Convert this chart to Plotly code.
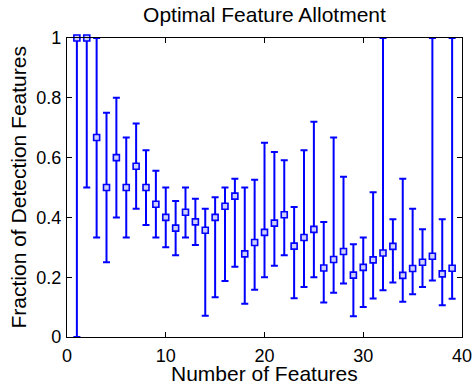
import plotly.graph_objects as go

x_features = list(range(1, 40))
frac_mean = [1.0, 1.0, 0.667, 0.5, 0.6, 0.5, 0.571, 0.5, 0.444, 0.4,
             0.364, 0.417, 0.385, 0.357, 0.4, 0.4375, 0.471, 0.278, 0.316, 0.35,
             0.381, 0.409, 0.304, 0.333, 0.36, 0.231, 0.259, 0.286, 0.207, 0.233,
             0.258, 0.281, 0.303, 0.206, 0.229, 0.25, 0.27, 0.211, 0.23]
frac_upper = [1.0, 1.0, 1.0, 0.75, 0.8, 0.667, 0.714, 0.625, 0.556, 0.5,
              0.455, 0.5, 0.462, 0.429, 0.467, 0.5, 0.529, 0.5, 0.526, 0.65,
              0.619, 0.591, 0.435, 0.625, 0.72, 0.385, 0.667, 0.536, 0.31, 0.333,
              0.484, 1.0, 0.394, 0.529, 0.429, 0.36, 1.0, 0.394, 1.0]
frac_lower = [0.0, 0.5, 0.333, 0.25, 0.4, 0.333, 0.429, 0.375, 0.333, 0.3,
              0.273, 0.333, 0.308, 0.071, 0.133, 0.1875, 0.235, 0.111, 0.158, 0.2,
              0.238, 0.273, 0.13, 0.167, 0.2, 0.115, 0.148, 0.179, 0.069, 0.1,
              0.129, 0.156, 0.182, 0.118, 0.143, 0.167, 0.189, 0.106, 0.128]

x_ticks = [0, 10, 20, 30, 40]
y_ticks = [0, 0.2, 0.4, 0.6, 0.8, 1]
y_ticktext = ["0", "0.2", "0.4", "0.6", "0.8", "1"]

err_plus = [u - m for u, m in zip(frac_upper, frac_mean)]
err_minus = [m - l for m, l in zip(frac_mean, frac_lower)]

BLUE = "#0000ff"
FONT = "Liberation Sans, Arial, sans-serif"

W, H = 474, 381
L, R, T, B = 67, 12, 38, 44
PH = H - T - B
PW = W - L - R

fig = go.Figure()
fig.add_trace(go.Scatter(
    x=x_features, y=frac_mean, mode="markers",
    marker=dict(symbol="square", size=6, color="#d0d0ff",
                line=dict(color=BLUE, width=1.6)),
    error_y=dict(type="data", symmetric=False, array=err_plus,
                 arrayminus=err_minus, color=BLUE, thickness=2, width=3.5),
    cliponaxis=False,
    showlegend=False,
))

axis_common = dict(
    showgrid=False, zeroline=False, showline=True, linecolor="black",
    linewidth=1.2, mirror="ticks", ticks="inside", ticklen=5,
    tickcolor="black", tickwidth=1, automargin=False,
    tickfont=dict(family=FONT, size=18, color="black"),
)

fig.update_layout(
    width=W, height=H,
    paper_bgcolor="white", plot_bgcolor="white",
    margin=dict(l=L, r=R, t=T, b=B),
    title=dict(text="Optimal Feature Allotment", x=(L + PW / 2) / W, xanchor="center",
               y=1 - 15 / H, yanchor="middle", yref="container",
               font=dict(family=FONT, size=21, color="black")),
    xaxis=dict(range=[0, 40], tickvals=x_ticks, ticklabelstandoff=2,
               **axis_common),
    yaxis=dict(range=[0, 1], tickvals=y_ticks, ticktext=y_ticktext,
               ticklabelstandoff=1,
               **axis_common),
    annotations=[
        dict(text="Number of Features", xref="paper", yref="paper",
             x=0.5, y=-(373 - (T + PH)) / PH, xanchor="center", yanchor="middle",
             showarrow=False, borderpad=0,
             font=dict(family=FONT, size=21, color="black")),
        dict(text="Fraction of Detection Features", xref="paper", yref="paper",
             x=-(L - 18) / PW, y=0.5, xanchor="center", yanchor="middle",
             textangle=-90, showarrow=False, borderpad=0,
             font=dict(family=FONT, size=21, color="black")),
    ],
)

fig.write_html(
    "out.html",
    config={"displayModeBar": False},
    post_script="document.body.style.margin='0';document.body.style.padding='0';"
                "document.body.style.overflow='hidden';",
)
